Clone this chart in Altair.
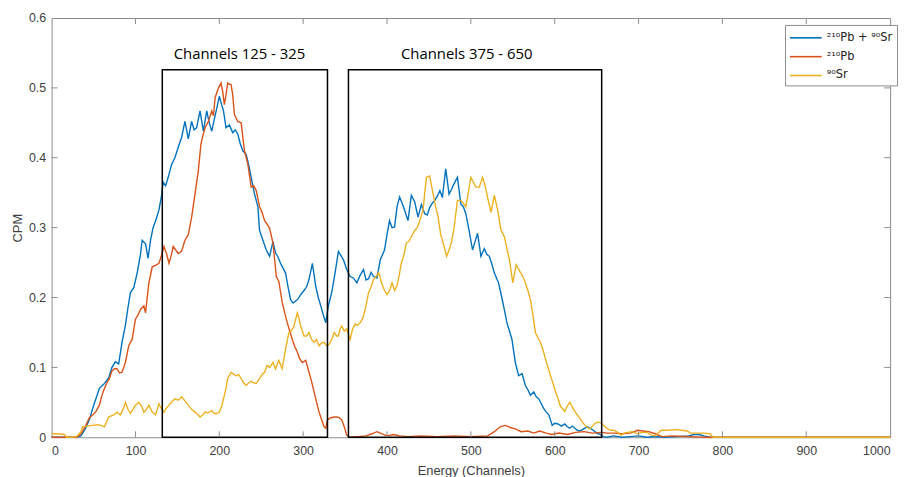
import altair as alt
import pandas as pd

# ---------------- data ----------------
mix_label = "²¹⁰Pb + ⁹⁰Sr"
pb_label = "²¹⁰Pb"
sr_label = "⁹⁰Sr"

ch_mix = [0, 10, 20, 30, 35, 40, 45, 50, 57, 63, 68, 72, 76, 80, 84, 88, 91, 94, 98, 102, 106, 108, 112, 115, 118,
          121, 124, 128, 131, 133, 136, 139, 143, 147, 151, 155, 159, 163, 167, 170, 173, 177, 181, 185, 188, 191,
          194, 197, 200, 203, 205, 208, 212, 216, 219, 222, 225, 228, 232, 235, 238, 242, 246, 248, 252, 256, 260,
          264, 267, 270, 273, 276, 279, 282, 285, 288, 291, 294, 297, 301, 304, 307, 311, 315, 318, 321, 324, 327,
          330, 334, 338, 342, 346, 348, 352, 356, 360, 364, 368, 372, 375, 378, 381, 384, 388, 392, 397, 400, 403,
          406, 409, 412, 415, 418, 421, 425, 429, 433, 437, 441, 445, 448, 451, 454, 457, 460, 463, 466, 470, 474,
          477, 480, 484, 488, 491, 494, 498, 502, 505, 508, 512, 516, 519, 522, 525, 528, 533, 536, 539, 543, 546,
          549, 553, 557, 561, 565, 568, 571, 575, 578, 581, 584, 587, 590, 593, 597, 600, 604, 608, 612, 615, 618,
          621, 624, 627, 630, 633, 636, 639, 642, 646, 650, 654, 658, 662, 670, 680, 690, 700, 710, 720, 730, 745,
          760, 766, 772, 778, 785, 800, 850, 900, 950, 1000]
cpm_mix = [0, 0, 0, 0, 0.002, 0.012, 0.025, 0.045, 0.07, 0.077, 0.085, 0.10, 0.108, 0.105, 0.136, 0.16, 0.185,
           0.207, 0.214, 0.235, 0.262, 0.282, 0.277, 0.256, 0.282, 0.30, 0.31, 0.325, 0.345, 0.365, 0.36, 0.372,
           0.39, 0.40, 0.415, 0.429, 0.452, 0.427, 0.452, 0.44, 0.443, 0.467, 0.438, 0.467, 0.45, 0.438, 0.455,
           0.471, 0.488, 0.475, 0.467, 0.443, 0.447, 0.436, 0.44, 0.434, 0.42, 0.41, 0.405, 0.39, 0.372, 0.348,
           0.33, 0.296, 0.282, 0.268, 0.259, 0.28, 0.264, 0.258, 0.249, 0.242, 0.235, 0.215, 0.197, 0.192, 0.195,
           0.198, 0.204, 0.21, 0.215, 0.226, 0.249, 0.216, 0.2, 0.188, 0.175, 0.164, 0.188, 0.207, 0.235, 0.266,
           0.258, 0.254, 0.24, 0.23, 0.228, 0.221, 0.232, 0.24, 0.225, 0.227, 0.236, 0.23, 0.228, 0.254, 0.268,
           0.29, 0.31, 0.30, 0.301, 0.33, 0.344, 0.335, 0.325, 0.31, 0.346, 0.337, 0.315, 0.333, 0.32, 0.318,
           0.329, 0.335, 0.339, 0.345, 0.353, 0.343, 0.384, 0.348, 0.355, 0.363, 0.372, 0.334, 0.33, 0.32, 0.295,
           0.268, 0.28, 0.292, 0.259, 0.27, 0.262, 0.259, 0.248, 0.235, 0.221, 0.205, 0.188, 0.164, 0.152, 0.14,
           0.107, 0.088, 0.091, 0.074, 0.068, 0.06, 0.065, 0.058, 0.055, 0.048, 0.041, 0.036, 0.032, 0.017, 0.02,
           0.019, 0.016, 0.019, 0.015, 0.013, 0.016, 0.013, 0.01, 0.009, 0.011, 0.013, 0.015, 0.013, 0.01, 0.006,
           0.004, 0.001, 0.0, 0.002, 0.0, 0.001, 0.002, 0.0, 0.001, 0.0, 0.001, 0.002, 0.004, 0.004, 0.002, 0.0, 0,
           0, 0, 0, 0]

ch_pb = [0, 10, 20, 30, 35, 40, 45, 50, 53, 57, 60, 63, 66, 69, 72, 75, 78, 81, 84, 88, 92, 96, 100, 103, 106, 110,
         112, 116, 120, 124, 128, 131, 134, 137, 140, 143, 145, 148, 151, 155, 159, 163, 167, 171, 175, 178, 180,
         183, 187, 191, 193, 195, 199, 202, 204, 206, 208, 210, 212, 214, 216, 218, 222, 226, 230, 234, 238, 241,
         244, 248, 251, 254, 257, 260, 264, 268, 271, 275, 278, 281, 284, 287, 290, 293, 296, 299, 303, 307, 310,
         313, 316, 319, 322, 325, 327, 329, 333, 337, 340, 343, 346, 349, 352, 356, 365, 375, 382, 388, 394, 400,
         408, 415, 425, 440, 460, 480, 500, 520, 528, 535, 541, 547, 553, 560, 568, 575, 582, 590, 596, 605, 615,
         625, 635, 645, 655, 663, 672, 680, 690, 699, 705, 712, 720, 728, 740, 760, 780, 800, 1000]
cpm_pb = [0, 0, 0, 0, 0.005, 0.015, 0.028, 0.033, 0.037, 0.046, 0.06, 0.07, 0.078, 0.084, 0.095, 0.098, 0.098,
          0.092, 0.093, 0.107, 0.131, 0.14, 0.169, 0.175, 0.183, 0.188, 0.178, 0.221, 0.244, 0.246, 0.249, 0.26,
          0.273, 0.263, 0.249, 0.262, 0.273, 0.268, 0.263, 0.266, 0.282, 0.29, 0.315, 0.348, 0.382, 0.419, 0.43,
          0.443, 0.452, 0.467, 0.46, 0.486, 0.50, 0.507, 0.495, 0.476, 0.49, 0.507, 0.505, 0.505, 0.49, 0.462,
          0.452, 0.45, 0.41, 0.391, 0.358, 0.36, 0.353, 0.33, 0.322, 0.31, 0.305, 0.299, 0.278, 0.23, 0.223, 0.193,
          0.178, 0.164, 0.152, 0.14, 0.13, 0.122, 0.112, 0.107, 0.11, 0.093, 0.08, 0.065, 0.05, 0.036, 0.025, 0.015,
          0.013, 0.025, 0.028, 0.029, 0.029, 0.028, 0.025, 0.015, 0.003, 0.0, 0.001, 0.002, 0.005, 0.008, 0.005,
          0.002, 0.004, 0.002, 0.001, 0.002, 0.001, 0.002, 0.001, 0.002, 0.008, 0.015, 0.017, 0.014, 0.012, 0.008,
          0.009, 0.006, 0.009, 0.006, 0.004, 0.006, 0.004, 0.007, 0.008, 0.006, 0.007, 0.006, 0.006, 0.005, 0.006,
          0.01, 0.009, 0.008, 0.005, 0.001, 0.002, 0.001, 0.0, 0, 0]

ch_sr = [0, 8, 15, 18, 25, 30, 35, 37, 42, 49, 55, 59, 63, 68, 74, 78, 82, 86, 88, 91, 94, 97, 100, 104, 107, 110,
         113, 116, 120, 124, 128, 131, 134, 137, 140, 143, 147, 151, 155, 159, 163, 167, 171, 174, 177, 180, 183,
         187, 191, 194, 197, 200, 203, 205, 208, 210, 214, 217, 220, 223, 226, 229, 232, 235, 238, 241, 244, 248,
         251, 254, 257, 260, 264, 267, 271, 275, 279, 283, 286, 289, 293, 295, 297, 301, 304, 307, 310, 313, 316,
         319, 322, 325, 328, 331, 334, 337, 340, 342, 344, 346, 349, 352, 356, 359, 362, 365, 368, 371, 374, 378,
         381, 384, 387, 390, 394, 397, 400, 403, 406, 409, 412, 415, 417, 420, 423, 426, 429, 433, 436, 439, 443,
         445, 447, 451, 453, 455, 458, 461, 464, 467, 471, 474, 477, 480, 484, 488, 491, 494, 497, 500, 503, 506,
         510, 514, 517, 520, 524, 528, 532, 536, 540, 543, 546, 550, 554, 559, 562, 565, 568, 571, 574, 577, 580,
         583, 586, 589, 592, 595, 598, 601, 604, 607, 610, 612, 615, 618, 621, 624, 627, 630, 633, 636, 639, 642,
         645, 648, 652, 656, 660, 663, 667, 671, 675, 679, 683, 687, 692, 695, 699, 704, 710, 715, 720, 727, 735,
         745, 752, 758, 762, 770, 778, 785, 789, 800, 1000]
cpm_sr = [0.005, 0.005, 0.004, 0.0, 0.0, 0.001, 0.008, 0.015, 0.016, 0.017, 0.018, 0.017, 0.015, 0.029, 0.032,
          0.036, 0.032, 0.042, 0.05, 0.04, 0.034, 0.04, 0.046, 0.05, 0.045, 0.036, 0.04, 0.046, 0.036, 0.032, 0.048,
          0.041, 0.036, 0.042, 0.046, 0.05, 0.055, 0.053, 0.058, 0.052, 0.046, 0.04, 0.036, 0.033, 0.029, 0.032,
          0.036, 0.035, 0.038, 0.034, 0.034, 0.036, 0.045, 0.055, 0.07, 0.084, 0.093, 0.09, 0.088, 0.09, 0.084,
          0.078, 0.074, 0.078, 0.08, 0.078, 0.077, 0.084, 0.09, 0.093, 0.103, 0.1, 0.107, 0.098, 0.11, 0.098, 0.126,
          0.15, 0.152, 0.159, 0.178, 0.17, 0.159, 0.145, 0.145, 0.15, 0.14, 0.136, 0.14, 0.131, 0.135, 0.136,
          0.131, 0.133, 0.14, 0.15, 0.145, 0.145, 0.155, 0.159, 0.152, 0.155, 0.14, 0.155, 0.162, 0.16, 0.164,
          0.17, 0.183, 0.207, 0.215, 0.226, 0.23, 0.236, 0.219, 0.21, 0.204, 0.21, 0.221, 0.21, 0.217, 0.235,
          0.249, 0.26, 0.278, 0.28, 0.287, 0.296, 0.3, 0.31, 0.325, 0.35, 0.372, 0.374, 0.36, 0.348, 0.33, 0.315,
          0.29, 0.278, 0.259, 0.268, 0.28, 0.30, 0.339, 0.339, 0.335, 0.33, 0.35, 0.372, 0.365, 0.358, 0.358,
          0.372, 0.36, 0.343, 0.322, 0.346, 0.325, 0.296, 0.287, 0.27, 0.254, 0.221, 0.247, 0.236, 0.23, 0.221,
          0.21, 0.197, 0.175, 0.15, 0.142, 0.136, 0.125, 0.112, 0.1, 0.088, 0.077, 0.065, 0.055, 0.044, 0.04,
          0.037, 0.045, 0.05, 0.043, 0.037, 0.032, 0.027, 0.022, 0.017, 0.014, 0.012, 0.016, 0.02, 0.022, 0.02,
          0.015, 0.012, 0.01, 0.01, 0.007, 0.003, 0.006, 0.007, 0.008, 0.007, 0.005, 0.007, 0.007, 0.003, 0.002,
          0.01, 0.01, 0.011, 0.01, 0.009, 0.006, 0.006, 0.006, 0.005, 0.0, 0, 0]

box_start = [132, 354]
box_end = [329, 656]
box_top = [0.526, 0.526]
box_text = ["Channels 125 - 325", "Channels 375 - 650"]
box_text_x = [224, 495]
box_text_y = [0.549, 0.549]

x_tick_values = [0, 100, 200, 300, 400, 500, 600, 700, 800, 900, 1000]
y_tick_values = [0, 0.1, 0.2, 0.3, 0.4, 0.5, 0.6]

series_names = [mix_label, pb_label, sr_label]
series_colors = ["#0072BD", "#D95319", "#EDB120"]

# ---------------- chart ----------------
W, H = 846, 423
GRAY = "#8c8c8c"
FONT = "Liberation Sans"

xs = alt.Scale(domain=[0, 1000], nice=False, zero=False)
ys = alt.Scale(domain=[0, 0.6], nice=False, zero=False)
cs = alt.Scale(domain=series_names, range=series_colors)

x_axis = alt.Axis(values=x_tick_values, format="d", ticks=False, domain=False, grid=False,
                  labelFontSize=12.5, labelColor="#404040", labelPadding=7, labelFont=FONT,
                  title="Energy (Channels)", titleFontSize=13, titleFontWeight="normal",
                  titleColor="#404040", titlePadding=8, titleFont=FONT)
y_axis = alt.Axis(values=y_tick_values, format=".1~f", ticks=False, domain=False, grid=False,
                  labelFontSize=12.5, labelColor="#404040", labelPadding=6, labelFont=FONT,
                  title="CPM", titleFontSize=13, titleFontWeight="normal",
                  titleColor="#404040", titlePadding=4, titleFont=FONT)

legend = alt.Legend(title=None, orient="none", legendX=740, legendY=7,
                    symbolType="M-2,0H2", symbolSize=256, symbolStrokeWidth=1.6, symbolOffset=8,
                    labelFont="DejaVu Sans", labelFontSize=11.5, labelColor="#222222", labelOffset=12,
                    rowPadding=4, padding=4, strokeColor=GRAY, fillColor="white")


def series_layer(ch, vals, name):
    df = pd.DataFrame({"channel": ch, "cpm": vals, "series": name})
    return alt.Chart(df).mark_line(strokeWidth=1.4).encode(
        x=alt.X("channel:Q", scale=xs, axis=x_axis),
        y=alt.Y("cpm:Q", scale=ys, axis=y_axis),
        color=alt.Color("series:N", scale=cs, legend=legend),
    )


mix_layer = series_layer(ch_mix, cpm_mix, mix_label)
pb_layer = series_layer(ch_pb, cpm_pb, pb_label)
sr_layer = series_layer(ch_sr, cpm_sr, sr_label)

boxes_df = pd.DataFrame({"x0": box_start, "x1": box_end, "top": box_top})
boxes = alt.Chart(boxes_df).mark_rect(filled=False, stroke="black", strokeWidth=1.5).encode(
    x=alt.X("x0:Q", scale=xs, axis=x_axis),
    x2="x1:Q",
    y=alt.Y("top:Q", scale=ys, axis=y_axis),
    y2=alt.datum(0),
)

labels_df = pd.DataFrame({"x": box_text_x, "y": box_text_y, "t": box_text})
labels = alt.Chart(labels_df).mark_text(font="Open Sans", fontSize=15, color="black",
                                        align="center", baseline="middle").encode(
    x=alt.X("x:Q", scale=xs, axis=x_axis),
    y=alt.Y("y:Q", scale=ys, axis=y_axis),
    text="t:N",
)

xt_df = pd.DataFrame({"t": x_tick_values[1:-1]})
yt_df = pd.DataFrame({"t": y_tick_values[1:-1]})
TL = 6
bottom_ticks = alt.Chart(xt_df).mark_rule(color=GRAY, strokeWidth=1).encode(
    x=alt.X("t:Q", scale=xs, axis=x_axis), y=alt.value(H), y2=alt.value(H - TL))
top_ticks = alt.Chart(xt_df).mark_rule(color=GRAY, strokeWidth=1).encode(
    x=alt.X("t:Q", scale=xs, axis=x_axis), y=alt.value(0), y2=alt.value(TL))
left_ticks = alt.Chart(yt_df).mark_rule(color=GRAY, strokeWidth=1).encode(
    y=alt.Y("t:Q", scale=ys, axis=y_axis), x=alt.value(0), x2=alt.value(TL))
right_ticks = alt.Chart(yt_df).mark_rule(color=GRAY, strokeWidth=1).encode(
    y=alt.Y("t:Q", scale=ys, axis=y_axis), x=alt.value(W), x2=alt.value(W - TL))

chart = alt.layer(
    mix_layer, pb_layer, sr_layer, boxes, labels,
    bottom_ticks, top_ticks, left_ticks, right_ticks,
).properties(
    width=W, height=H,
    autosize=alt.AutoSizeParams(type="none"),
    padding={"left": 44, "top": 8, "right": 14, "bottom": 40},
    background="white",
).configure_view(
    stroke=GRAY, strokeWidth=1,
)

chart.save("out.html", embed_options={"renderer": "svg", "actions": False})
